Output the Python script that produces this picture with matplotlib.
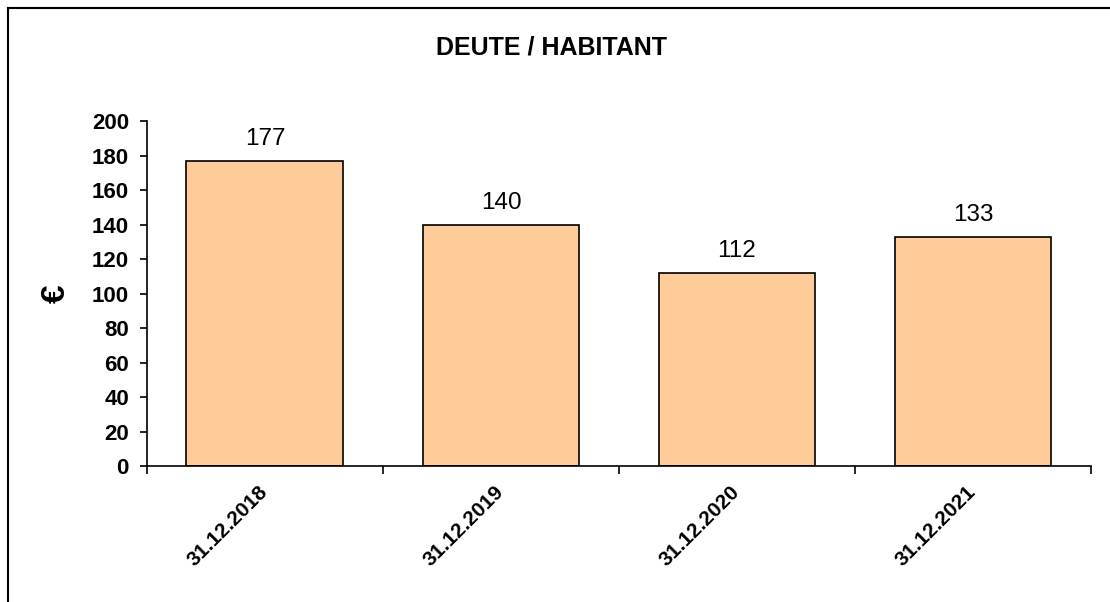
import numpy as np
import matplotlib.pyplot as plt
from matplotlib.lines import Line2D
from matplotlib.transforms import ScaledTranslation

plt.rcParams['font.family'] = ['Liberation Sans', 'DejaVu Sans']

dates = ['31.12.2018', '31.12.2019', '31.12.2020', '31.12.2021']
values = [177, 140, 112, 133]
yticks = [0, 20, 40, 60, 80, 100, 120, 140, 160, 180, 200]

fig = plt.figure(figsize=(11.1, 6.02), dpi=100)
ax = fig.add_axes([0.1324, 0.2259, 0.8505, 0.5731])

x = np.arange(len(dates))
bars = ax.bar(x, values, width=0.665, color='#FFCC99', edgecolor='black', linewidth=1.2, zorder=2)
for b, v in zip(bars, values):
    ax.text(b.get_x() + b.get_width() / 2, v + 6, str(v), ha='center', va='bottom', fontsize=17.5)

ax.set_xlim(-0.5, len(dates) - 0.5)
ax.set_ylim(0, 200)
ax.set_yticks(yticks)
ax.set_yticklabels([str(t) for t in yticks], fontsize=16, fontweight='bold')
ax.tick_params(axis='y', length=5, width=1.2, direction='out', pad=8)

ax.set_xticks(x)
ax.set_xticklabels(dates, rotation=45, ha='right', va='top', rotation_mode='anchor',
                   fontsize=15, fontweight='bold')
ax.tick_params(axis='x', which='major', length=0, pad=12)
ax.set_xticks(np.arange(len(dates) + 1) - 0.5, minor=True)
ax.tick_params(axis='x', which='minor', length=6, width=1.2, direction='out')
shift = ScaledTranslation(-7 / 100, 0, fig.dpi_scale_trans)
for lbl in ax.get_xticklabels():
    lbl.set_transform(lbl.get_transform() + shift)

for s in ['top', 'right']:
    ax.spines[s].set_visible(False)
for s in ['left', 'bottom']:
    ax.spines[s].set_linewidth(1.2)

ax.set_ylabel('€', fontsize=24, fontweight='bold', rotation=90, labelpad=14)
fig.text(0.4965, 0.921, 'DEUTE / HABITANT', ha='center', va='center', fontsize=18, fontweight='bold')

# outer frame (top and left edges visible)
fig.add_artist(Line2D([8 / 1110, 1], [1 - 8 / 602, 1 - 8 / 602], color='black', linewidth=1.5))
fig.add_artist(Line2D([8 / 1110, 8 / 1110], [0, 1 - 8 / 602], color='black', linewidth=1.5))

fig.savefig('out.png', dpi=100)
